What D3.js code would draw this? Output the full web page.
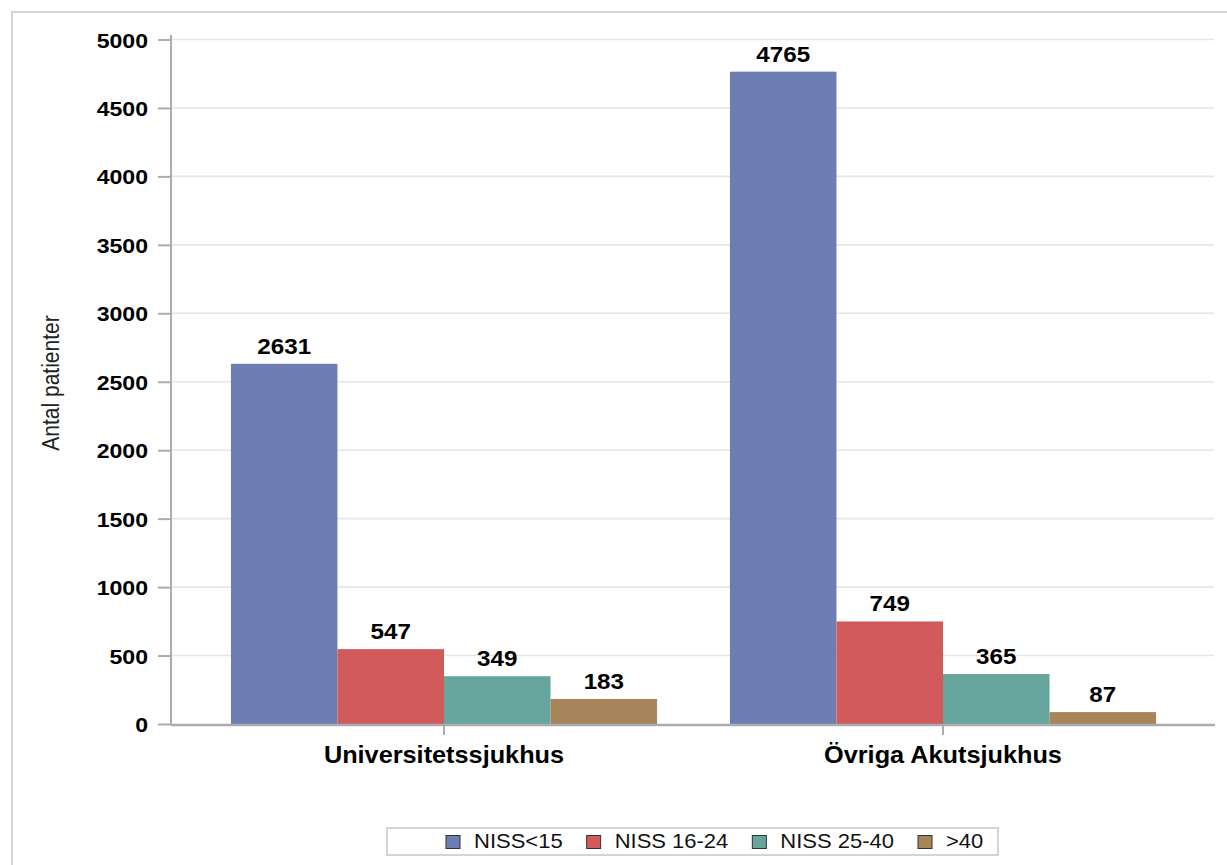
<!DOCTYPE html>
<html>
<head>
<meta charset="utf-8">
<script src="https://cdn.jsdelivr.net/npm/d3@7"></script>
<style>
  html, body { margin: 0; padding: 0; background: #fff; }
  svg { display: block; font-family: "Liberation Sans", Arial, Helvetica, sans-serif; }
</style>
</head>
<body>
<svg id="chart" width="1227" height="865"></svg>
<script>
// Patients per NISS group, by hospital type
const categories = ["Universitetssjukhus", "Övriga Akutsjukhus"];
const seriesNames = ["NISS<15", "NISS 16-24", "NISS 25-40", ">40"];
const nissUnder15 = [2631, 4765];
const niss16to24 = [547, 749];
const niss25to40 = [349, 365];
const nissOver40 = [183, 87];
const seriesColors = ["#6f7eb2", "#d15b5b", "#66a69e", "#a8845a"];
const yTickValues = [0, 500, 1000, 1500, 2000, 2500, 3000, 3500, 4000, 4500, 5000];
const yTitle = "Antal patienter";

const seriesValues = [nissUnder15, niss16to24, niss25to40, nissOver40];
const rows = categories.map((c, i) => ({
  category: c,
  bars: seriesNames.map((s, j) => ({ series: s, value: seriesValues[j][i], color: seriesColors[j] }))
}));

const STRETCH = 1.1; // horizontal widening of the label glyphs
const svg = d3.select("#chart");

// outer frame
svg.append("rect")
  .attr("x", 12).attr("y", 12).attr("width", 1240).attr("height", 880)
  .attr("fill", "none").attr("stroke", "#d4d4d4").attr("stroke-width", 2);

const plot = { left: 171, right: 1215, top: 39.5, bottom: 724 };

const y = d3.scaleLinear().domain([0, 5000]).range([plot.bottom, plot.top]);
const x = d3.scaleBand().domain(categories).range([194.5, 1192.5])
  .paddingInner(0.146).paddingOuter(0.073);
const xInner = d3.scaleBand().domain(seriesNames).range([0, x.bandwidth()]).padding(0);

// horizontal gridlines
svg.append("g")
  .selectAll("line")
  .data(yTickValues.filter(v => v > 0))
  .join("line")
  .attr("x1", plot.left).attr("x2", 1214)
  .attr("y1", d => y(d)).attr("y2", d => y(d))
  .attr("stroke", "#e6e6e6").attr("stroke-width", 1.6);

// bars
const groups = svg.append("g")
  .selectAll("g")
  .data(rows)
  .join("g")
  .attr("transform", d => `translate(${x(d.category)},0)`);

groups.selectAll("rect")
  .data(d => d.bars)
  .join("rect")
  .attr("x", d => xInner(d.series))
  .attr("y", d => y(d.value))
  .attr("width", xInner.bandwidth())
  .attr("height", d => y(0) - y(d.value))
  .attr("fill", d => d.color);

// value labels above bars
groups.selectAll("text")
  .data(d => d.bars)
  .join("text")
  .attr("transform", d => `translate(${xInner(d.series) + xInner.bandwidth() / 2},${y(d.value) - 10}) scale(${STRETCH},1)`)
  .attr("text-anchor", "middle")
  .attr("font-size", 22).attr("font-weight", "bold").attr("fill", "#000")
  .text(d => d.value);

// y axis
const yAxis = svg.append("g")
  .attr("transform", `translate(${plot.left},0)`)
  .call(d3.axisLeft(y).tickValues(yTickValues).tickSize(13).tickPadding(0).tickFormat(d3.format("d")));
yAxis.select(".domain").attr("d", `M0,35V${plot.bottom + 1}`).attr("stroke", "#a9adb2").attr("stroke-width", 2);
yAxis.selectAll(".tick line").attr("stroke", "#a9adb2").attr("stroke-width", 2);
yAxis.selectAll(".tick text")
  .attr("x", null).attr("dy", null)
  .attr("transform", `translate(-23,7.5) scale(${STRETCH},1)`)
  .attr("font-size", 21).attr("font-weight", "bold").attr("fill", "#000")
  .attr("font-family", null);

// x axis
const xAxis = svg.append("g")
  .attr("transform", `translate(0,${plot.bottom + 1})`)
  .call(d3.axisBottom(x).tickSize(10).tickSizeOuter(0).tickPadding(0));
xAxis.select(".domain").attr("d", `M${plot.left},0H${plot.right}`).attr("stroke", "#a9adb2").attr("stroke-width", 2.5);
xAxis.selectAll(".tick line").attr("stroke", "#a9adb2").attr("stroke-width", 2);
xAxis.selectAll(".tick text")
  .attr("y", null).attr("dy", null)
  .attr("transform", `translate(0,38) scale(${STRETCH},1)`)
  .attr("font-size", 23).attr("font-weight", "bold").attr("fill", "#000")
  .attr("font-family", null);

// y axis title
svg.append("text")
  .attr("transform", `translate(59,383) scale(${STRETCH},1) rotate(-90)`)
  .attr("text-anchor", "middle")
  .attr("font-size", 21).attr("fill", "#222")
  .text(yTitle);

// legend
const legend = svg.append("g");
legend.append("rect")
  .attr("x", 387).attr("y", 828).attr("width", 611).attr("height", 27)
  .attr("fill", "#fff").attr("stroke", "#d4d4d4").attr("stroke-width", 2);

let lx = 446;
seriesNames.forEach((name, i) => {
  legend.append("rect")
    .attr("x", lx).attr("y", 835.5).attr("width", 14).attr("height", 13)
    .attr("fill", seriesColors[i]).attr("stroke", "#333").attr("stroke-width", 1);
  const t = legend.append("text")
    .attr("transform", `translate(${lx + 28},848) scale(${STRETCH},1)`)
    .attr("font-size", 20).attr("fill", "#111")
    .text(name);
  lx += 28 + t.node().getComputedTextLength() * STRETCH + 24;
});
</script>
</body>
</html>
